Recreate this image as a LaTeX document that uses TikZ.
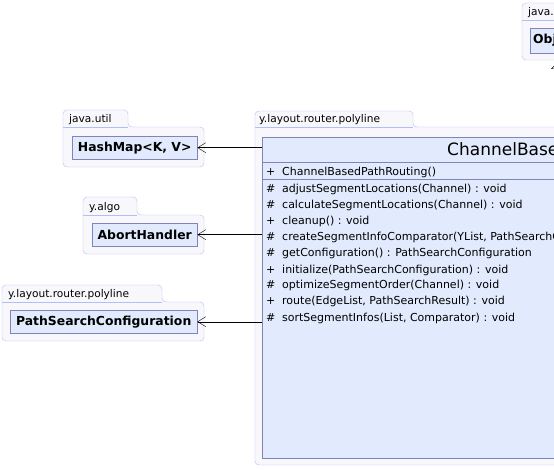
\documentclass[tikz,border=0pt]{standalone}
\usepackage{fontspec}
\setmainfont{DejaVu Sans}
\usetikzlibrary{arrows.meta}

\definecolor{pkgline}{HTML}{B4BEF4}
\definecolor{pkgfill}{HTML}{F8F8FC}
\definecolor{clsline}{HTML}{8084B8}
\definecolor{clsfill}{HTML}{E1EBFD}

\begin{document}
\begin{tikzpicture}[x=1pt,y=-1pt,
  pkg/.style={draw=pkgline,fill=pkgfill,rounded corners=4pt},
  pkgname/.style={anchor=base west,inner sep=0pt,font=\fontsize{10.6}{13}\selectfont},
  cls/.style={draw=clsline,fill=clsfill,anchor=north west,inner sep=0pt,
    font=\bfseries\fontsize{12.4}{14}\selectfont},
  member/.style={anchor=base west,inner sep=0pt,font=\fontsize{11}{13}\selectfont},
  dep/.style={-{Straight Barb[length=8pt,width=10pt]}},
  inherit/.style={-{Triangle[open,length=7pt,width=14pt]}}]
\useasboundingbox (0,0) rectangle (554,470);
\clip (0,0) rectangle (554,470);
\fill[white] (0,0) rectangle (554,470);

% packages
\draw[pkg] (522,60) -- (522,3) -- (590,3) -- (590,20) -- (700,20) -- (700,60) -- cycle;
\draw[pkgline] (522,20) -- (590,20);
\node[pkgname] (langname) at (528,16) {java.lang};

\draw[pkg] (63,167) -- (63,110) -- (128,110) -- (128,127) -- (204,127) -- (204,167) -- cycle;
\draw[pkgline] (63,127) -- (128,127);
\node[pkgname] (utilname) at (69,123) {java.util};

\draw[pkg] (83,254) -- (83,197) -- (137,197) -- (137,215) -- (204,215) -- (204,254) -- cycle;
\draw[pkgline] (83,215) -- (137,215);
\node[pkgname] (algoname) at (89,211) {y.algo};

\draw[pkg] (2,341) -- (2,285) -- (162,285) -- (162,302) -- (204,302) -- (204,341) -- cycle;
\draw[pkgline] (2,302) -- (162,302);
\node[pkgname] (polyname) at (8,298) {y.layout.router.polyline};

\draw[pkg] (255,465) -- (255,111) -- (413,111) -- (413,127) -- (900,127) -- (900,465) -- cycle;
\draw[pkgline] (255,127) -- (413,127);
\node[pkgname] (mainname) at (259,123) {y.layout.router.polyline};

% classes
\node[cls,minimum width=60pt,minimum height=25pt] (object) at (530,28) {};
\node[cls,anchor=west,draw=none,fill=none] (objectname) at (533,40.5) {Object};
\node[cls,minimum width=125pt,minimum height=23pt] (hashmap) at (72,136) {HashMap<K, V>};
\node[cls,minimum width=105pt,minimum height=23pt] (abort) at (92,223) {AbortHandler};
\node[cls,minimum width=187pt,minimum height=23pt] (config) at (10,310) {PathSearchConfiguration};
\node[cls,minimum width=600pt,minimum height=321pt] (routing) at (262,137) {};
\node[anchor=base west,inner sep=0pt,font=\fontsize{17}{20}\selectfont] (routingname) at (447,156) {ChannelBasedPathRouting};
\draw[clsline] (routing.west |- 0,162) -- (routing.east |- 0,162);
\draw[clsline] (routing.west |- 0,179) -- (routing.east |- 0,179);

\node[member] (ctorvis) at (266,176) {+};
\node[member] (ctor) at (282,176) {ChannelBasedPathRouting()};
\foreach \v/\m [count=\i from 0] in {
  \#/{adjustSegmentLocations(Channel) : void},
  \#/{calculateSegmentLocations(Channel) : void},
  +/{cleanup() : void},
  \#/{createSegmentInfoComparator(YList, PathSearchConfiguration) : Comparator},
  \#/{getConfiguration() : PathSearchConfiguration},
  +/{initialize(PathSearchConfiguration) : void},
  \#/{optimizeSegmentOrder(Channel) : void},
  +/{route(EdgeList, PathSearchResult) : void},
  \#/{sortSegmentInfos(List, Comparator) : void}}
{
  \node[member] (vis\i) at (266,193+16*\i) {\v};
  \node[member] (op\i) at (282,193+16*\i) {\m};
}

% connectors
\draw[dep] (routing.west |- hashmap.east) -- (hashmap.east);
\draw[dep] (routing.west |- abort.east) -- (abort.east);
\draw[dep] (routing.west |- config.east) -- (config.east);
\coordinate (up) at (558,137);
\draw[inherit] (up) -- (558,62);
\end{tikzpicture}
\end{document}
